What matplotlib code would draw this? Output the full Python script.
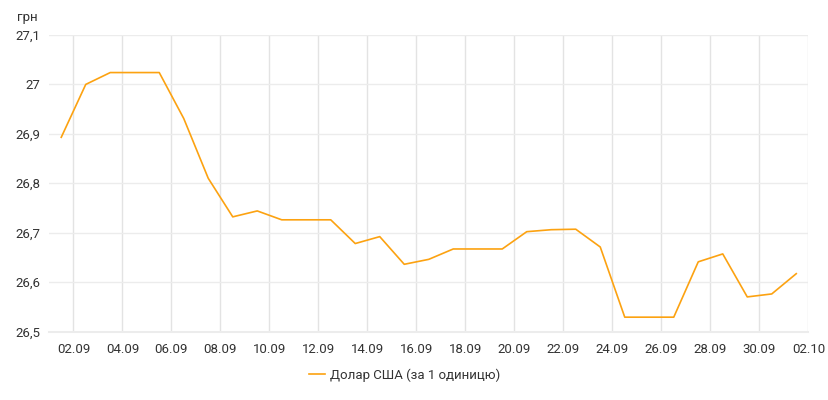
import matplotlib
matplotlib.use("Agg")
import matplotlib.pyplot as plt
from matplotlib.ticker import FixedLocator, FuncFormatter

plt.rcParams['font.family'] = ['Roboto', 'DejaVu Sans']

# курс долара США, 01.09 - 01.10
dates = ["01.09", "02.09", "03.09", "04.09", "05.09", "06.09", "07.09", "08.09",
         "09.09", "10.09", "11.09", "12.09", "13.09", "14.09", "15.09", "16.09",
         "17.09", "18.09", "19.09", "20.09", "21.09", "22.09", "23.09", "24.09",
         "25.09", "26.09", "27.09", "28.09", "29.09", "30.09", "01.10"]
rates = [26.893, 27.000, 27.024, 27.024, 27.024, 26.931, 26.810, 26.732,
         26.744, 26.726, 26.726, 26.726, 26.678, 26.692, 26.636, 26.646,
         26.667, 26.667, 26.667, 26.702, 26.706, 26.707, 26.671, 26.529,
         26.529, 26.529, 26.641, 26.657, 26.570, 26.576, 26.617]
tick_labels = ["02.09", "04.09", "06.09", "08.09", "10.09", "12.09", "14.09", "16.09",
               "18.09", "20.09", "22.09", "24.09", "26.09", "28.09", "30.09", "02.10"]
y_ticks = [26.5, 26.6, 26.7, 26.8, 26.9, 27.0, 27.1]

fig = plt.figure(figsize=(8.29, 4), dpi=100)
ax = fig.add_axes([49/829, 1 - 331.5/400, (808.5 - 49)/829, (331.5 - 35)/400])

# точки стоять посередині дня
xs = [i + 0.5 for i in range(len(dates))]
line, = ax.plot(xs, rates, color='#fca211', lw=1.2, solid_joinstyle='round',
                label="Долар США (за 1 одиницю)")

ax.set_xlim(0, 31)
ax.set_ylim(26.5, 27.1)

ax.xaxis.set_major_locator(FixedLocator([1 + 2*i for i in range(len(tick_labels))]))
ax.set_xticklabels(tick_labels)
ax.yaxis.set_major_locator(FixedLocator(y_ticks))
ax.yaxis.set_major_formatter(FuncFormatter(lambda v, p: ("%g" % round(v, 1)).replace('.', ',')))

ax.grid(True, axis='x', color='#e3e3e3', lw=1)
ax.grid(True, axis='y', color='#ececec', lw=1)
ax.set_axisbelow(True)
for s in ['top', 'left', 'right']:
    ax.spines[s].set_visible(False)
ax.spines['bottom'].set_color('#ececec')
ax.spines['bottom'].set_linewidth(1.5)
ax.tick_params(length=0, labelsize=9.5, labelcolor='#333333')
ax.tick_params(axis='x', pad=8)
ax.tick_params(axis='y', pad=6)

fig.text(17/829, 1 - 18/400, "грн", fontsize=9.5, color='#333333', va='center', ha='left')

fig.legend(handles=[line], loc='center', bbox_to_anchor=(405/829, 1 - 375/400),
           frameon=False, fontsize=9.5, handlelength=1.2, handletextpad=0.4,
           labelcolor='#333333')

fig.savefig("out.png", dpi=100)
